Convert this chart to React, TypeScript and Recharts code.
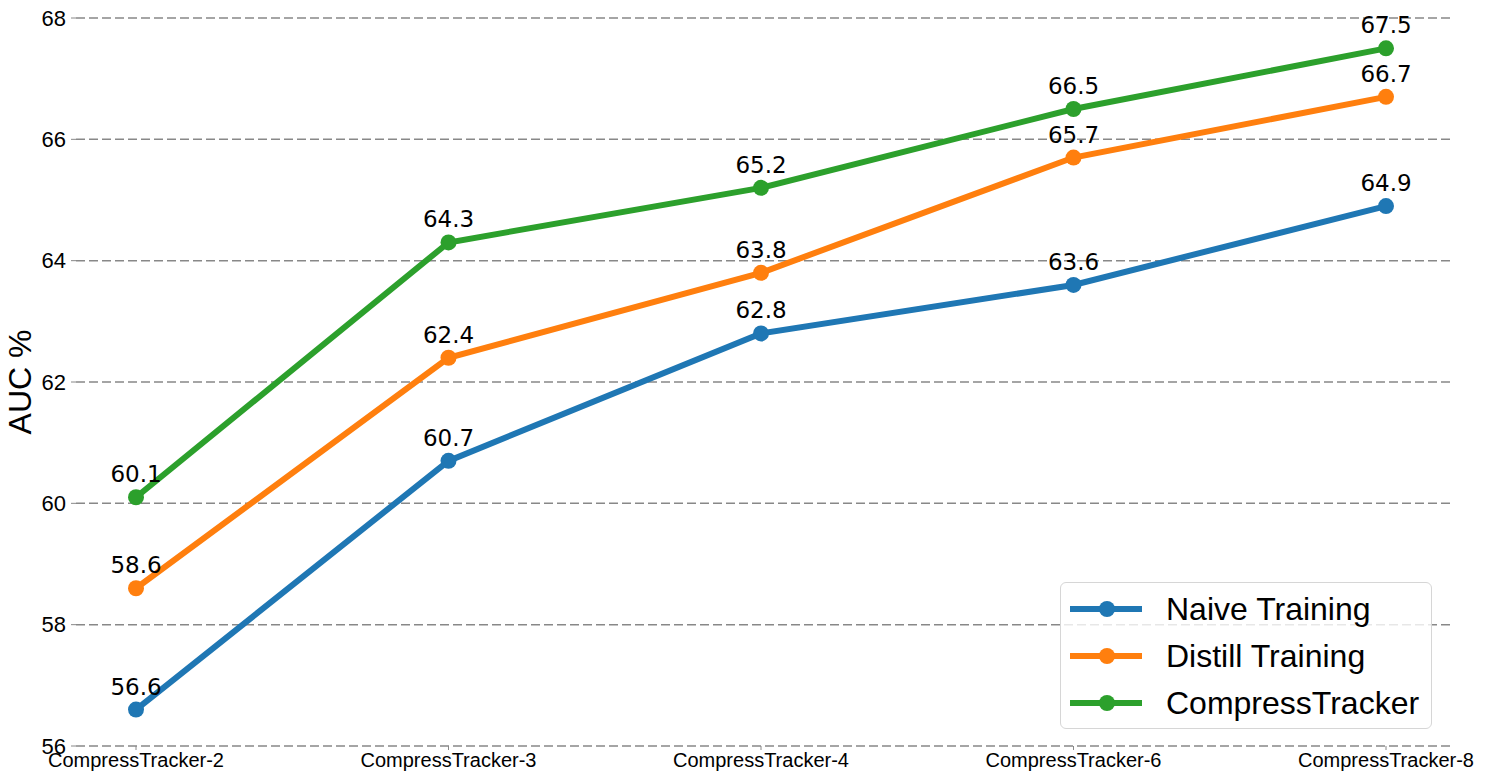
import { LineChart, Line, XAxis, YAxis, CartesianGrid, LabelList } from "recharts";

const categories = ["CompressTracker-2", "CompressTracker-3", "CompressTracker-4", "CompressTracker-6", "CompressTracker-8"];
const naive = [56.6, 60.7, 62.8, 63.6, 64.9];
const distill = [58.6, 62.4, 63.8, 65.7, 66.7];
const compress = [60.1, 64.3, 65.2, 66.5, 67.5];
const yTicks = [56, 58, 60, 62, 64, 66, 68];

const series = [
  { key: "naive", name: "Naive Training", color: "#1f77b4" },
  { key: "distill", name: "Distill Training", color: "#ff7f0e" },
  { key: "compress", name: "CompressTracker", color: "#2ca02c" },
];

const data = categories.map((c, i) => ({ name: c, naive: naive[i], distill: distill[i], compress: compress[i] }));

const sans = "'Liberation Sans', Arial, Helvetica, sans-serif";

// matplotlib-like legend box, drawn over the plot in the lower right
function LegendBox() {
  return (
    <div
      style={{
        position: "absolute",
        left: 1060,
        top: 582,
        width: 372,
        height: 147,
        boxSizing: "border-box",
        border: "1px solid #d6d6d6",
        borderRadius: 6,
        background: "rgba(255,255,255,0.8)",
        paddingTop: 2,
      }}
    >
      {series.map((s) => (
        <div key={s.key} style={{ display: "flex", alignItems: "center", height: 47 }}>
          <svg width={105} height={30} style={{ flex: "none" }}>
            <line x1={9} x2={81} y1={15} y2={15} stroke={s.color} strokeWidth={6} />
            <circle cx={46} cy={15} r={8} fill={s.color} />
          </svg>
          <span style={{ fontFamily: sans, fontSize: 32, color: "#000", lineHeight: "32px" }}>{s.name}</span>
        </div>
      ))}
    </div>
  );
}

export default function App() {
  return (
    <div style={{ position: "absolute", left: 0, top: 0, width: 1495, height: 780, background: "#fff" }}>
      <LineChart width={1495} height={780} data={data} margin={{ top: 18, right: 45, bottom: 0, left: 0 }}>
        <CartesianGrid vertical={false} stroke="#888" strokeWidth={1.5} strokeDasharray="9 4" />
        <XAxis
          dataKey="name"
          axisLine={false}
          tickLine={{ stroke: "#888" }}
          tickSize={4}
          tickMargin={3}
          padding={{ left: 60, right: 64 }}
          interval={0}
          height={34}
          tick={{ fontFamily: sans, fontSize: 20, fill: "#000" }}
        />
        <YAxis
          domain={[56, 68]}
          ticks={yTicks}
          axisLine={false}
          tickLine={{ stroke: "#888" }}
          tickSize={5}
          tickMargin={5}
          width={76}
          tick={{ fontFamily: sans, fontSize: 22, fill: "#000" }}
          label={{
            value: "AUC %",
            angle: -90,
            position: "center",
            dx: -18,
            style: { fontFamily: sans, fontSize: 32, fill: "#000" },
          }}
        />
        {series.map((s) => (
          <Line
            key={s.key}
            dataKey={s.key}
            name={s.name}
            stroke={s.color}
            strokeWidth={6}
            type="linear"
            dot={{ r: 8, fill: s.color, stroke: s.color, strokeWidth: 0 }}
            activeDot={false}
            isAnimationActive={false}
          >
            <LabelList
              dataKey={s.key}
              position="top"
              offset={15}
              style={{ fontFamily: "'DejaVu Sans', sans-serif", fontSize: 23, fill: "#000" }}
              formatter={(v: number) => v.toFixed(1)}
            />
          </Line>
        ))}
      </LineChart>
      <LegendBox />
    </div>
  );
}
